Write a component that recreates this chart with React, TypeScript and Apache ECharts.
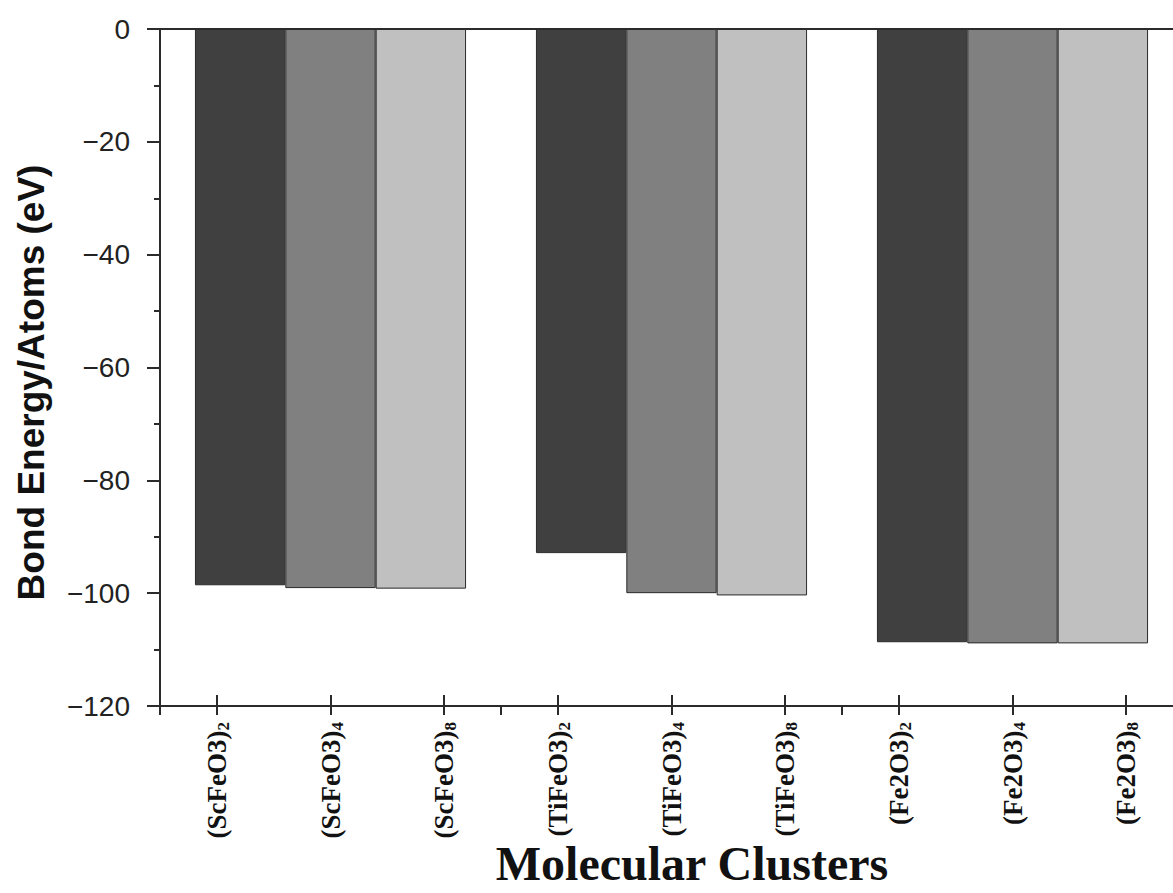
import React, { useEffect, useRef } from "react";
import * as echarts from "echarts";

const groups = ["(ScFeO3)", "(TiFeO3)", "(Fe2O3)"];
const sizes = ["2", "4", "8"];
const clusterLabels = groups.flatMap((g) => sizes.map((s) => g + s));
const n2Values = [-98.6, -92.9, -108.7];
const n4Values = [-99.1, -100.0, -108.9];
const n8Values = [-99.2, -100.4, -108.9];
const yMin = -120;
const yMax = 0;
const yInterval = 20;
const yTitle = "Bond Energy/Atoms (eV)";
const xTitle = "Molecular Clusters";

export default function App() {
  const ref = useRef<HTMLDivElement>(null);
  useEffect(() => {
    if (!ref.current) return;
    const chart = echarts.init(ref.current, null, { renderer: "svg" });
    const axisColor = "#2b2b2b";
    const barBorder = "#2a2a2a";
    const mkSeries = (name: string, data: number[], color: string) => ({
      name,
      type: "bar",
      xAxisIndex: 0,
      yAxisIndex: 0,
      data,
      barGap: "0%",
      barCategoryGap: "20.5%",
      itemStyle: { color, borderColor: barBorder, borderWidth: 1 },
    });
    chart.setOption({
      animation: false,
      backgroundColor: "#ffffff",
      grid: { left: 160, right: 17, top: 29, bottom: 893 - 706 },
      xAxis: [
        {
          type: "category",
          data: groups,
          position: "bottom",
          axisLine: { show: true, onZero: false, lineStyle: { color: axisColor, width: 2 } },
          axisTick: { show: true, alignWithLabel: false, length: 9, lineStyle: { color: axisColor, width: 2 } },
          axisLabel: { show: false },
        },
        {
          type: "category",
          data: clusterLabels,
          position: "bottom",
          axisLine: { show: false, onZero: false },
          axisTick: { show: true, alignWithLabel: true, inside: true, length: 11, lineStyle: { color: axisColor, width: 2 } },
          axisLabel: {
            show: true,
            rotate: 90,
            margin: 16,
            interval: 0,
            formatter: (v: string) => `{a|${v.slice(0, -1)}}{s|${v.slice(-1)}}`,
            rich: {
              a: { fontFamily: "Liberation Serif", fontWeight: "bold", fontSize: 27, color: "#111" },
              s: { fontFamily: "Liberation Serif", fontWeight: "bold", fontSize: 17, color: "#111", padding: [13, 0, 0, 0] },
            },
          },
        },
        {
          type: "category",
          data: clusterLabels,
          position: "bottom",
          axisLine: { show: false, onZero: false },
          axisTick: { show: true, alignWithLabel: true, length: 9, lineStyle: { color: axisColor, width: 2 } },
          axisLabel: { show: false },
        },
        {
          type: "category",
          data: groups,
          position: "top",
          axisLine: { show: true, onZero: false, lineStyle: { color: axisColor, width: 2 } },
          axisTick: { show: false },
          axisLabel: { show: false },
        },
      ],
      yAxis: {
        type: "value",
        min: yMin,
        max: yMax,
        interval: yInterval,
        axisLine: { show: true, onZero: false, lineStyle: { color: axisColor, width: 2 } },
        axisTick: { show: true, length: 13, lineStyle: { color: axisColor, width: 2 } },
        minorTick: { show: true, splitNumber: 2, length: 6, lineStyle: { color: axisColor, width: 2 } },
        splitLine: { show: false },
        axisLabel: {
          margin: 30,
          fontFamily: "Liberation Sans",
          fontSize: 28,
          color: "#222",
          formatter: (v: number) => (v === 0 ? "0" : "\u2212" + Math.abs(v)),
        },
        name: yTitle,
        nameLocation: "middle",
        nameGap: 110,
        nameRotate: 90,
        nameTextStyle: { fontFamily: "Liberation Sans", fontWeight: "bold", fontSize: 37, color: "#111", padding: [0, 30, 0, 0] },
      },
      series: [
        mkSeries("n = 2", n2Values, "#404040"),
        mkSeries("n = 4", n4Values, "#808080"),
        mkSeries("n = 8", n8Values, "#c0c0c0"),
      ],
      graphic: [
        {
          type: "text",
          x: 692,
          y: 863,
          style: {
            text: xTitle,
            fontFamily: "Liberation Serif",
            fontWeight: "bold",
            fontSize: 48,
            fill: "#111",
            align: "center",
            verticalAlign: "middle",
          },
        },
      ],
    });
    return () => chart.dispose();
  }, []);
  return (
    <div style={{ position: "fixed", left: 0, top: 0, width: 1173, height: 893, overflow: "hidden", background: "#fff" }}>
      <div ref={ref} style={{ width: 1200, height: 893 }} />
    </div>
  );
}
